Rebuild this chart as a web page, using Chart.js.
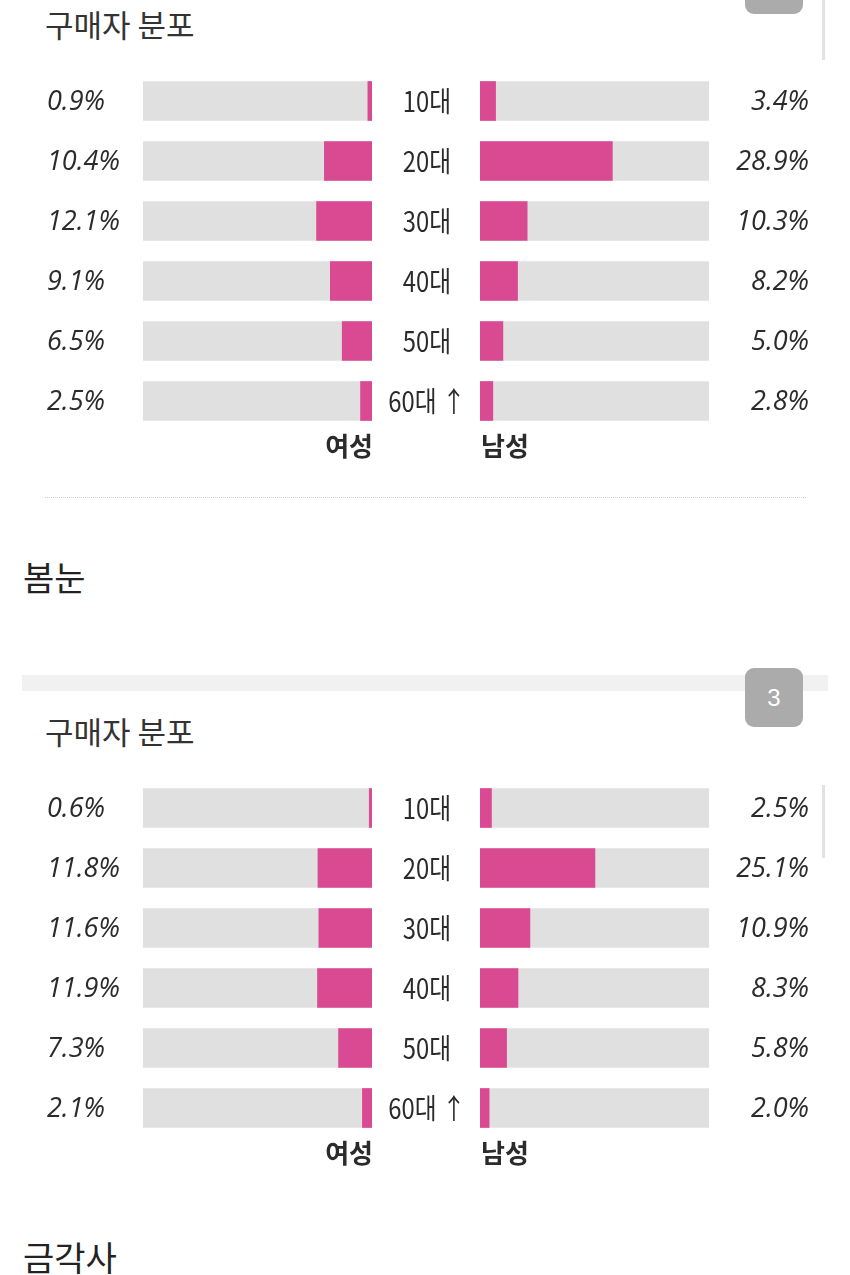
<!DOCTYPE html>
<html>
<head>
<meta charset="utf-8">
<script src="https://cdn.jsdelivr.net/npm/chart.js@4"></script>
<style>
  body { margin: 0; background: #fff; }
  #page { position: relative; width: 850px; height: 1275px; overflow: hidden; background: #fff;
          font-family: 'Noto Sans CJK KR', sans-serif; color: #333; }
  .abs { position: absolute; }
  .title { font-size: 31px; line-height: 31px; white-space: nowrap; }
  .head { font-size: 34px; line-height: 34px; color: #222; white-space: nowrap; }
  .tab { background: #ababab; border-radius: 9px; }
  .bar-line { background: #e2e2e2; width: 3px; }
  canvas { position: absolute; left: 0; }
</style>
</head>
<body>
<div id="page">
  <div class="abs tab" style="left:745px;top:-12px;width:58px;height:26px"></div>
  <div class="abs bar-line" style="left:822px;top:0;height:60px"></div>
  <div class="abs title" style="left:45px;top:8px">구매자 분포</div>
  <canvas id="female1" width="850" height="410" style="top:60px"></canvas>
  <canvas id="male1" width="850" height="410" style="top:60px"></canvas>

  <div class="abs" style="left:45px;top:497px;width:761px;border-top:1px dotted #cfcfcf"></div>
  <div class="abs head" style="left:23px;top:560px">봄눈</div>

  <div class="abs" style="left:22px;top:675px;width:806px;height:16px;background:#f1f1f1"></div>
  <div class="abs tab" style="left:745px;top:668px;width:58px;height:59px;color:#fff;font:24px 'Liberation Sans',Arial,sans-serif;line-height:59px;text-align:center">3</div>
  <div class="abs title" style="left:45px;top:715px">구매자 분포</div>
  <div class="abs bar-line" style="left:822px;top:785px;height:73px"></div>
  <canvas id="female2" width="850" height="410" style="top:767px"></canvas>
  <canvas id="male2" width="850" height="410" style="top:767px"></canvas>

  <div class="abs head" style="left:23px;top:1240px">금각사</div>
</div>
<script>
// 연령대
const ages = ['10대', '20대', '30대', '40대', '50대', '60대 ↑']
// 블록 1
const female1 = [0.9, 10.4, 12.1, 9.1, 6.5, 2.5]
const male1 = [3.4, 28.9, 10.3, 8.2, 5.0, 2.8]
// 블록 2
const female2 = [0.6, 11.8, 11.6, 11.9, 7.3, 2.1]
const male2 = [2.5, 25.1, 10.9, 8.3, 5.8, 2.0]
const scaleMax = 50

const pink = '#d94a93'
const track = '#e0e0e0'
const ink = '#2b2b2b'

function drawText(ctx, text, x, y, font, align, sx){
  ctx.save()
  ctx.translate(x, y)
  ctx.scale(sx, 1)
  ctx.font = font
  ctx.fillStyle = ink
  ctx.textAlign = align
  ctx.textBaseline = 'middle'
  ctx.fillText(text, 0, 0)
  ctx.restore()
}

const labelPlugin = {
  id: 'labels',
  afterDatasetsDraw(chart){
    const ctx = chart.ctx
    const y = chart.scales.y
    const side = chart.options.plugins.labels.side
    const values = chart.data.datasets[0].data
    values.forEach((v, i) => {
      const py = y.getPixelForValue(i)
      const txt = v.toFixed(1) + '%'
      if (side === 'f'){
        drawText(ctx, txt, 47, py + 1, "italic 27px 'Open Sans'", 'left', 1)
        drawText(ctx, ages[i], 427, py, "28px 'Noto Sans CJK KR'", 'center', 0.85)
      } else {
        drawText(ctx, txt, 809, py + 1, "italic 27px 'Open Sans'", 'right', 1)
      }
    })
    const ly = chart.chartArea.bottom + 15
    if (side === 'f') drawText(ctx, '여성', 373, ly, "bold 26px 'Noto Sans CJK KR'", 'right', 1)
    else drawText(ctx, '남성', 481, ly, "bold 26px 'Noto Sans CJK KR'", 'left', 1)
  }
}

function make_half(id, values, side){
  const canvas = document.getElementById(id)
  const left = side === 'f' ? 143 : 480
  const right = side === 'f' ? 850 - 372 : 850 - 709
  return new Chart(canvas, {
    type: 'bar',
    data: {
      labels: ages,
      datasets: [
        { data: values, backgroundColor: pink, grouped: false, barThickness: 39, borderWidth: 0 },
        { data: ages.map(() => scaleMax), backgroundColor: track, grouped: false, barThickness: 39, borderWidth: 0 },
      ]
    },
    options: {
      indexAxis: 'y',
      responsive: false,
      animation: false,
      layout: { padding: { left: left, right: right, top: 11, bottom: 39 } },
      plugins: {
        legend: { display: false },
        tooltip: { enabled: false },
        labels: { side: side },
      },
      scales: {
        x: { min: 0, max: scaleMax, reverse: side === 'f', display: false },
        y: { display: false },
      },
    },
    plugins: [labelPlugin],
  })
}

make_half('female1', female1, 'f')
make_half('male1', male1, 'm')
make_half('female2', female2, 'f')
make_half('male2', male2, 'm')
</script>
</body>
</html>
